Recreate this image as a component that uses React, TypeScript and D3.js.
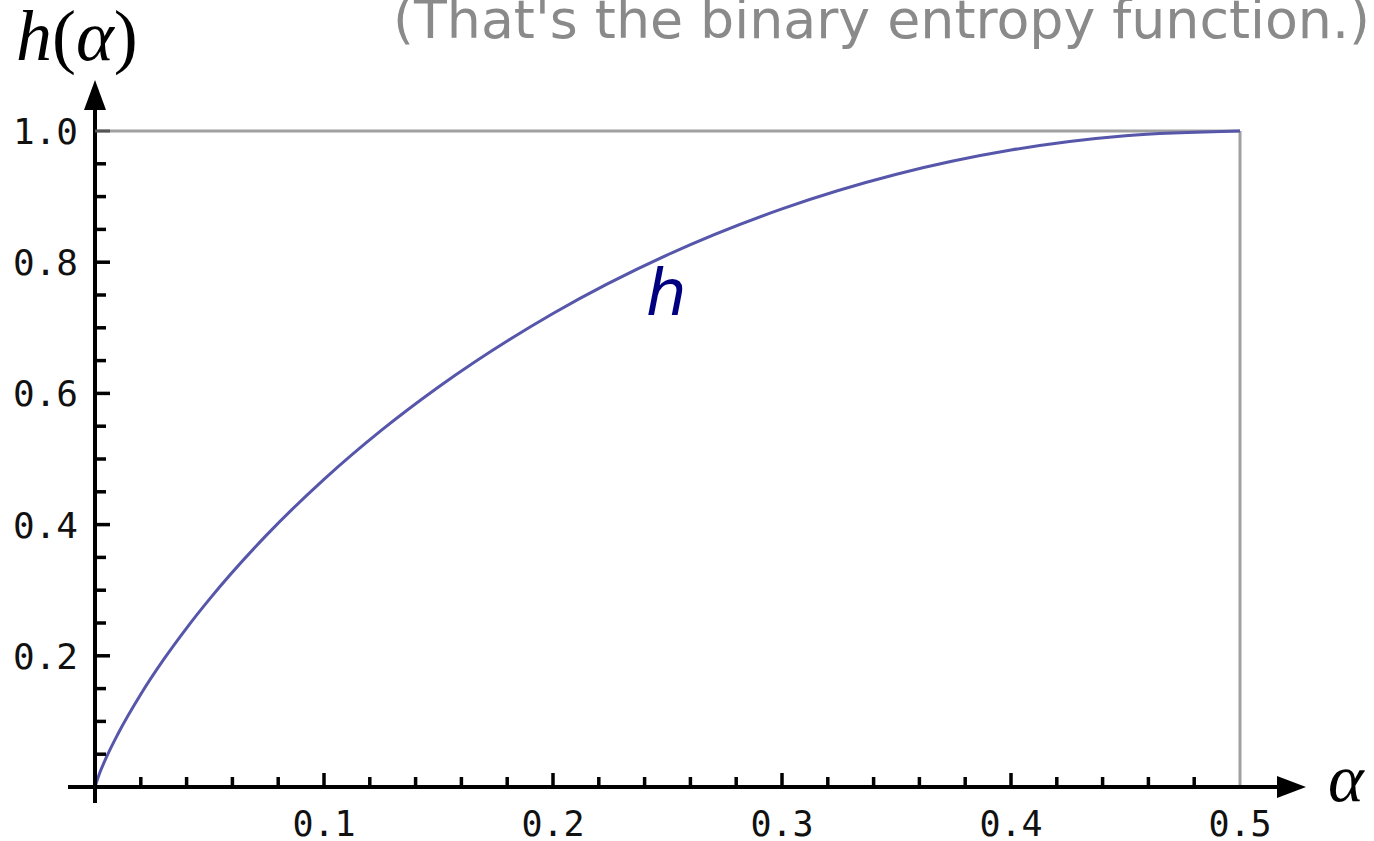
import React from "react";
import * as d3 from "d3";

// Binary entropy curve h(α), sampled at these α values
const alphaValues = [0, 0.002, 0.005, 0.01, 0.02, 0.03, 0.04, 0.05, 0.075, 0.1, 0.125, 0.15, 0.2, 0.25, 0.3, 0.35, 0.4, 0.45, 0.5];
const hValues = [0, 0.0208, 0.0454, 0.0808, 0.1414, 0.1944, 0.2423, 0.2864, 0.3843, 0.469, 0.5436, 0.6098, 0.7219, 0.8113, 0.8813, 0.9341, 0.971, 0.9928, 1.0];

const xTickLabels = ["0.1", "0.2", "0.3", "0.4", "0.5"];
const yTickLabels = ["0.2", "0.4", "0.6", "0.8", "1.0"];

const W = 1374;
const H = 841;

export default function App() {
  const x = d3.scaleLinear().domain([0, 0.5]).range([95, 1240]);
  const y = d3.scaleLinear().domain([0, 1]).range([787, 131]);

  const points = alphaValues.map((a, i) => [a, hValues[i]] as [number, number]);
  const line = d3
    .line<[number, number]>()
    .x((d) => x(d[0]))
    .y((d) => y(d[1]))
    .curve(d3.curveMonotoneX);

  // minor ticks every 0.02 on α, every 0.05 on h
  const xTicks = d3.range(1, 25).map((i) => i * 0.02);
  const yTicks = d3.range(1, 21).map((i) => i * 0.05);

  const x0 = x(0);
  const y0 = y(0);

  return (
    <svg
      width={W}
      height={H}
      viewBox={`0 0 ${W} ${H}`}
      style={{ position: "absolute", left: 0, top: 0, background: "#fff" }}
    >
      {/* plot frame */}
      <line x1={x0} x2={x(0.5)} y1={y(1)} y2={y(1)} stroke="#a0a0a0" strokeWidth={3} />
      <line x1={x(0.5)} x2={x(0.5)} y1={y(1)} y2={y0} stroke="#a0a0a0" strokeWidth={3} />

      {/* curve */}
      <path d={line(points) || ""} fill="none" stroke="#5656aa" strokeWidth={3} />

      {/* x axis */}
      <line x1={68} x2={1280} y1={y0} y2={y0} stroke="#000" strokeWidth={4} />
      <path d={`M1306,${y0} L1277,${y0 - 11} L1277,${y0 + 11} Z`} fill="#000" />
      {xTicks.map((t, i) => {
        const major = (i + 1) % 5 === 0;
        return (
          <line
            key={"xt" + i}
            x1={x(t)}
            x2={x(t)}
            y1={y0}
            y2={y0 - (major ? 14 : 10)}
            stroke="#000"
            strokeWidth={3.5}
          />
        );
      })}
      {xTickLabels.map((lab, i) => (
        <text
          key={"xl" + i}
          x={x((i + 1) * 0.1)}
          y={836}
          textAnchor="middle"
          fontFamily="DejaVu Sans Mono"
          fontSize={35}
          fill="#111"
        >
          {lab}
        </text>
      ))}

      {/* y axis */}
      <line x1={x0} x2={x0} y1={803} y2={105} stroke="#000" strokeWidth={4} />
      <path d={`M${x0},80 L${x0 - 11},110 L${x0 + 11},110 Z`} fill="#000" />
      {yTicks.map((t, i) => {
        const major = (i + 1) % 4 === 0;
        const top = i === yTicks.length - 1;
        return (
          <line
            key={"yt" + i}
            x1={x0}
            x2={x0 + (major ? 15 : 11)}
            y1={y(t)}
            y2={y(t)}
            stroke={top ? "#555" : "#000"}
            strokeWidth={top ? 3 : 3.5}
          />
        );
      })}
      {yTickLabels.map((lab, i) => (
        <text
          key={"yl" + i}
          x={78}
          y={y((i + 1) * 0.2) + 13}
          textAnchor="end"
          fontFamily="DejaVu Sans Mono"
          fontSize={36}
          fill="#111"
        >
          {lab}
        </text>
      ))}

      {/* axis titles */}
      <text x={16} y={60} fontFamily="Liberation Serif" fontSize={72} fill="#000">
        <tspan fontStyle="italic">h</tspan>
        <tspan>(</tspan>
        <tspan fontStyle="italic">α</tspan>
        <tspan>)</tspan>
      </text>
      <text x={1328} y={801} fontFamily="Liberation Serif" fontStyle="italic" fontSize={68} fill="#000">
        α
      </text>

      {/* curve label */}
      <text x={646} y={315} fontFamily="DejaVu Sans" fontStyle="italic" fontSize={64} fill="#000080">
        h
      </text>

      {/* note */}
      <text
        x={393}
        y={38}
        fontFamily="DejaVu Sans"
        fontSize={54}
        fill="#8a8a8a"
        textLength={977}
        lengthAdjust="spacingAndGlyphs"
      >
        (That's the binary entropy function.)
      </text>
    </svg>
  );
}
